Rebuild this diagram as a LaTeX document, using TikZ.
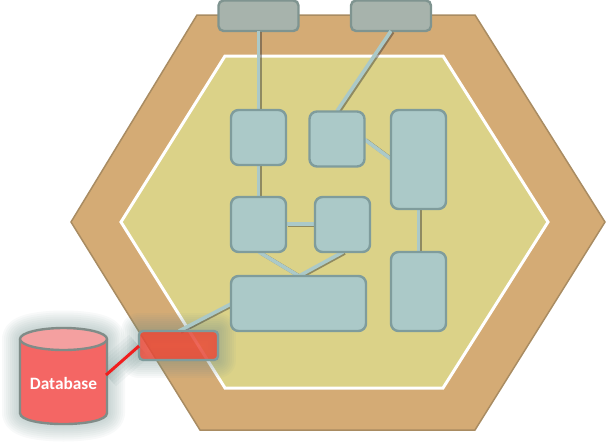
\documentclass[tikz,border=0pt]{standalone}
\usepackage{fontspec}
\setmainfont{Carlito}
\definecolor{tanhex}{HTML}{D4AB75}
\definecolor{tanedge}{HTML}{A98C62}
\definecolor{innerhex}{HTML}{DBD288}
\definecolor{tealfill}{HTML}{ABC9C8}
\definecolor{tealedge}{HTML}{7F9C9C}
\definecolor{greyfill}{HTML}{A7B3AC}
\definecolor{greyedge}{HTML}{7F9490}
\definecolor{redfill}{HTML}{EE4534}
\definecolor{dbfill}{HTML}{F46664}
\definecolor{dbtop}{HTML}{F4A0A0}
\definecolor{dbedge}{HTML}{808C88}
\definecolor{glowc}{HTML}{6F8F8C}
\definecolor{dblink}{HTML}{F01E1E}
\tikzset{
  x=0.75pt,y=-0.75pt,
  px/.style={line width=#1*0.75pt},
  boxbase/.style={draw,rounded corners=7.5*0.75pt,px=2.4,inner sep=0pt,outer sep=0pt,anchor=north west},
  tealbox/.style={boxbase,fill=tealfill,draw=tealedge},
  greybox/.style={boxbase,fill=greyfill,draw=greyedge,rounded corners=5*0.75pt},
  wire/.style={draw=tealfill,px=3.6},
  wireshade/.style={draw=black!80,px=3.6,opacity=.45,transform canvas={shift={(1.8*0.75pt,-1.0*0.75pt)}}},
  glowlayer/.style={draw=glowc,opacity=.05,px=#1,fill=none,line join=round},
  haze/.style={preaction={glowlayer=36},preaction={glowlayer=32},preaction={glowlayer=28},preaction={glowlayer=24},
     preaction={glowlayer=20},preaction={glowlayer=16},preaction={glowlayer=12},preaction={glowlayer=8},preaction={glowlayer=4}},
  dbline/.style={draw=dbedge,px=2.4,line join=round},
}
\newcommand{\linkwire}[2]{\draw[wireshade] (#1) -- (#2); \draw[wire] (#1) -- (#2);}
\begin{document}
\begin{tikzpicture}
\useasboundingbox (0,0) rectangle (606,443);
\draw[fill=tanhex,draw=tanedge,px=1.5] (197,15) -- (475,15) -- (605,222) -- (475,430) -- (200,430) -- (71,222) -- cycle;
\draw[fill=innerhex,draw=white,px=3] (225,56) -- (443,56) -- (548,222) -- (443,388) -- (225,388) -- (121,222) -- cycle;

% glow behind the adapter and the database
\path[haze] (139,331) rectangle (218,360);
\path[haze] (20,339) .. controls (20,325) and (107,325) .. (107,339) -- (107,413)
   .. controls (107,427) and (20,427) .. (20,413) -- cycle;
% soft shade where the link leaves the database
\foreach \w in {30,24,18,12,6}{
  \draw[draw=glowc,opacity=.07,px=\w] (106,375) -- (139,346);
}
\draw[dbline,fill=dbfill] (20,339) -- (20,413) .. controls (20,427.7) and (107,427.7) .. (107,413) -- (107,339);
\draw[dbline,fill=dbtop] (63.5,339) ellipse[x radius=43.5,y radius=11];
\node[text=white,font=\bfseries\fontsize{13}{15}\selectfont] (dblabel) at (63.5,383) {Database};
\coordinate (db) at (106,375);

\coordinate (t1) at (258.5,31); \coordinate (a1) at (258.5,110);
\coordinate (t2) at (391,31);   \coordinate (b1) at (337,111);
\coordinate (b2) at (364,139);  \coordinate (c1) at (391,159);
\coordinate (a2) at (258.5,165);\coordinate (d1) at (258.5,197);
\coordinate (d2) at (286,224);  \coordinate (e1) at (315,224);
\coordinate (d3) at (259,252);  \coordinate (f1) at (299,276);
\coordinate (e2) at (343,252);
\coordinate (c2) at (418.5,209);\coordinate (g1) at (418.5,252);
\coordinate (f2) at (231,304);  \coordinate (r1) at (179,331);
\coordinate (r2) at (139,346);

\node[greybox,minimum width=80*0.75pt,minimum height=30.5*0.75pt] (top1) at (218.5,0.5) {};
\node[greybox,minimum width=80*0.75pt,minimum height=30.5*0.75pt] (top2) at (351,0.5) {};

\linkwire{t1}{a1}
\linkwire{t2}{b1}
\linkwire{b2}{c1}
\linkwire{a2}{d1}
\linkwire{d2}{e1}
\linkwire{d3}{f1}
\linkwire{e2}{f1}
\linkwire{c2}{g1}
\linkwire{f2}{r1}

\node[tealbox,minimum width=55*0.75pt,minimum height=55*0.75pt] (A) at (231,110) {};
\node[tealbox,minimum width=55*0.75pt,minimum height=55*0.75pt] (B) at (309.5,111.5) {};
\node[tealbox,minimum width=55*0.75pt,minimum height=99*0.75pt] (C) at (391,110) {};
\node[tealbox,minimum width=55*0.75pt,minimum height=55*0.75pt] (D) at (231,197) {};
\node[tealbox,minimum width=55*0.75pt,minimum height=55*0.75pt] (E) at (315,197) {};
\node[tealbox,minimum width=135*0.75pt,minimum height=55*0.75pt] (F) at (231,276) {};
\node[tealbox,minimum width=55*0.75pt,minimum height=79*0.75pt] (G) at (391,252) {};

\node[boxbase,fill=redfill,fill opacity=.8,draw=tealedge,rounded corners=4*0.75pt,minimum width=79*0.75pt,minimum height=29*0.75pt] (red) at (139,331) {};
\draw[draw=dblink,px=3] (db) -- (r2);
\end{tikzpicture}
\end{document}
